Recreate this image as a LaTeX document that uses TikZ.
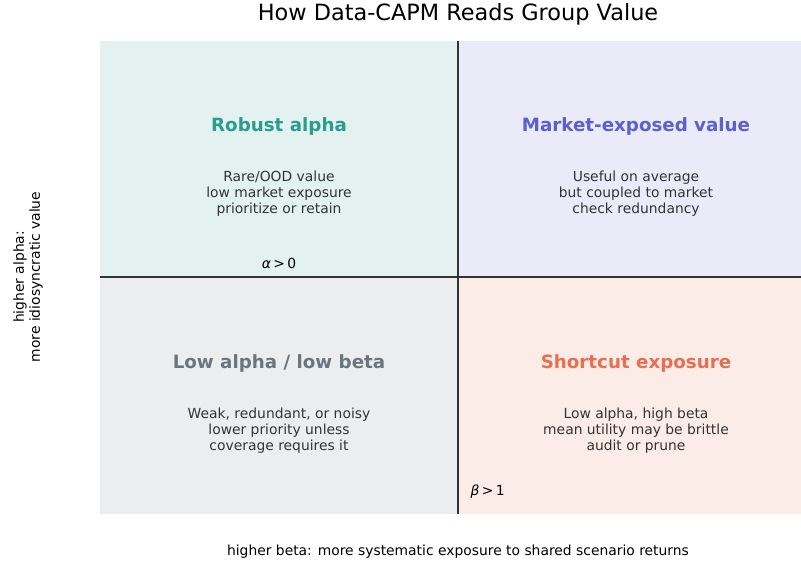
\documentclass[tikz,border=0pt]{standalone}
\usepackage{fontspec}
\setmainfont{DejaVu Sans}
\usepackage{tikz}
\usetikzlibrary{positioning}
\definecolor{robustc}{HTML}{2A9D8F}
\definecolor{marketc}{HTML}{5B5FCF}
\definecolor{lowc}{HTML}{6C757D}
\definecolor{shortc}{HTML}{E76F51}
\definecolor{bodyc}{HTML}{333333}

\begin{document}
\begin{tikzpicture}[x=0.75pt, y=-0.75pt,
qtitle/.style={font=\fontsize{13.7}{16}\selectfont\bfseries},
qbody/.style={font=\fontsize{10.4}{11.9}\selectfont, text=bodyc, align=center},
axislabel/.style={font=\fontsize{10.4}{12}\selectfont, align=center},
divider/.style={draw=bodyc, line width=1.4pt}]
\useasboundingbox (0,0) rectangle (801,563);
\fill [robustc!13] (100,41) rectangle (458,277);
\fill [marketc!13] (458,41) rectangle (801,277);
\fill [lowc!13] (100,277) rectangle (458,514);
\fill [shortc!13] (458,277) rectangle (801,514);

\node [font=\fontsize{16.8}{19}\selectfont] (title) at (458,14) {How Data-CAPM Reads Group Value};

\node [qtitle, text=robustc] (robust) at (279,126) {Robust alpha};
\node [qbody] (robustb) at (279,194) {Rare/OOD value\\low market exposure\\prioritize or retain};
\node [font=\fontsize{10.4}{12}\selectfont] (alpha) at (279,263) {\textit{α}\,>\,0};

\node [qtitle, text=marketc] (market) at (636,126) {Market-exposed value};
\node [qbody] (marketb) at (636,194) {Useful on average\\but coupled to market\\check redundancy};

\node [qtitle, text=lowc] (low) at (279,363) {Low alpha / low beta};
\node [qbody] (lowb) at (279,431) {Weak, redundant, or noisy\\lower priority unless\\coverage requires it};

\node [qtitle, text=shortc] (short) at (636,363) {Shortcut exposure};
\node [qbody] (shortb) at (636,431) {Low alpha, high beta\\mean utility may be brittle\\audit or prune};
\node [font=\fontsize{10.4}{12}\selectfont, anchor=west] (beta) at (466,492) {\textit{β}\,>\,1};

\coordinate (top) at (458,41);
\coordinate (bottom) at (458,514);
\coordinate (left) at (100,277);
\coordinate (right) at (801,277);
\path [divider] (top) -- (bottom) (left) -- (right);

\node [axislabel] (xlab) at (458,552) {higher beta: more systematic exposure to shared scenario returns};
\node [axislabel, rotate=90] (ylab) at (28,277) {higher alpha:\\more idiosyncratic value};
\end{tikzpicture}
\end{document}
